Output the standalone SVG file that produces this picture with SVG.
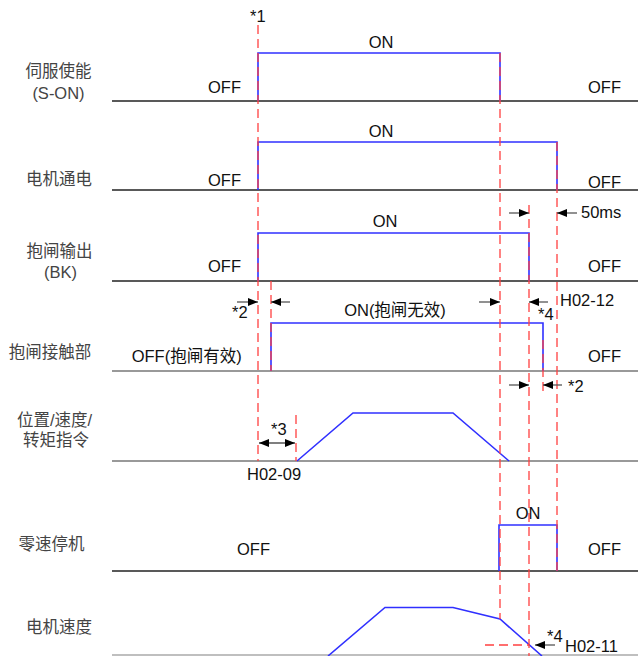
<svg xmlns="http://www.w3.org/2000/svg" width="638" height="656" viewBox="0 0 638 656">
<style>
text{font-family:"Liberation Sans","Noto Sans CJK SC",sans-serif;font-size:16.5px;fill:#111}
.lbl{fill:#444;text-anchor:middle}
.mid{text-anchor:middle}
.base{stroke:#222;stroke-width:1.3;fill:none}
.gbase{stroke:#777;stroke-width:1.3;fill:none}
.sig{stroke:#3030ff;stroke-width:1.6;fill:none}
.dash{stroke:#ff4040;stroke-width:1.3;stroke-dasharray:9,5;fill:none}
.arr{stroke:#555;stroke-width:1.3;fill:none}
</style>
<defs>
<marker id="ah" viewBox="0 0 10 8" refX="10" refY="4" markerWidth="10" markerHeight="8" markerUnits="userSpaceOnUse" orient="auto-start-reverse">
<path d="M0,0 L10,4 L0,8 z" fill="#000"/>
</marker>
</defs>
<rect width="638" height="656" fill="#fff"/>

<g id="labels">
<text class="lbl" x="58.5" y="77">伺服使能</text>
<text class="lbl" x="58.5" y="99">(S-ON)</text>
<text class="lbl" x="59" y="185">电机通电</text>
<text class="lbl" x="59.5" y="257">抱闸输出</text>
<text class="lbl" x="60.5" y="278">(BK)</text>
<text class="lbl" x="50" y="358">抱闸接触部</text>
<text class="lbl" x="54.5" y="426">位置/速度/</text>
<text class="lbl" x="56" y="446">转矩指令</text>
<text class="lbl" x="51.5" y="550">零速停机</text>
<text class="lbl" x="59" y="633">电机速度</text>
</g>

<g id="baselines">
<line class="base" x1="112" y1="101" x2="638" y2="101"/>
<line class="base" x1="112" y1="190" x2="638" y2="190"/>
<line class="base" x1="112" y1="281" x2="638" y2="281"/>
<line class="gbase" x1="112" y1="371" x2="638" y2="371"/>
<line class="gbase" x1="112" y1="461" x2="638" y2="461"/>
<line class="base" x1="112" y1="571" x2="638" y2="571"/>
<line class="gbase" x1="112" y1="655" x2="638" y2="655" style="stroke:#aaa"/>
</g>

<g id="signals">
<polyline class="sig" points="258,101 258,53 500,53 500,101"/>
<polyline class="sig" points="258,190 258,142 557,142 557,190"/>
<polyline class="sig" points="258,281 258,233 529,233 529,281"/>
<polyline class="sig" points="271,371 271,323 543,323 543,371"/>
<polyline class="sig" points="297,461 353,413 453,413 509,461"/>
<polyline class="sig" points="499,571 499,525 557,525 557,571"/>
<polyline class="sig" points="328,656 385,607.5 453,607.5 500,619 542,656"/>
</g>

<g id="connectors">
<line class="dash" x1="258" y1="25" x2="258" y2="461"/>
<line class="dash" x1="500" y1="53" x2="500" y2="619"/>
<line class="dash" x1="271" y1="281" x2="271" y2="371"/>
<line class="dash" x1="529" y1="205" x2="529" y2="656"/>
<line class="dash" x1="557" y1="142" x2="557" y2="571"/>
<line class="dash" x1="543" y1="340" x2="543" y2="392"/>
<line class="dash" x1="296" y1="415" x2="296" y2="461"/>
<line class="dash" x1="485" y1="645" x2="529" y2="645"/>

<line class="arr" x1="509" y1="213" x2="529" y2="213" marker-end="url(#ah)"/>
<line class="arr" x1="577" y1="213" x2="557" y2="213" marker-end="url(#ah)"/>
<line class="arr" x1="237" y1="302" x2="258" y2="302" marker-end="url(#ah)"/>
<line class="arr" x1="290" y1="302" x2="271" y2="302" marker-end="url(#ah)"/>
<line class="arr" x1="479" y1="302" x2="500" y2="302" marker-end="url(#ah)"/>
<line class="arr" x1="548" y1="302" x2="529" y2="302" marker-end="url(#ah)"/>
<line class="arr" x1="509" y1="385" x2="529" y2="385" marker-end="url(#ah)"/>
<line class="arr" x1="562" y1="385" x2="543" y2="385" marker-end="url(#ah)"/>
<line class="arr" x1="259" y1="443" x2="295" y2="443" marker-start="url(#ah)" marker-end="url(#ah)"/>
<line class="arr" x1="555" y1="645" x2="535" y2="645" marker-end="url(#ah)"/>
</g>

<g id="texts">
<text x="250" y="22">*1</text>
<text class="mid" x="381" y="48">ON</text>
<text x="208" y="93">OFF</text>
<text x="588" y="93">OFF</text>
<text class="mid" x="381" y="137">ON</text>
<text x="208" y="186">OFF</text>
<text x="588" y="188">OFF</text>
<text class="mid" x="385" y="227">ON</text>
<text x="208" y="272">OFF</text>
<text x="588" y="272">OFF</text>
<text x="581" y="218">50ms</text>
<text x="232" y="318">*2</text>
<text class="mid" x="395" y="316">ON(抱闸无效)</text>
<text x="538" y="320">*4</text>
<text x="560" y="306">H02-12</text>
<text x="131.7" y="362">OFF(抱闸有效)</text>
<text x="588" y="362">OFF</text>
<text x="568" y="392">*2</text>
<text x="271" y="435">*3</text>
<text x="247" y="480">H02-09</text>
<text class="mid" x="528" y="519">ON</text>
<text x="237" y="555">OFF</text>
<text x="588" y="555">OFF</text>
<text x="547" y="642">*4</text>
<text x="565" y="652">H02-11</text>
</g>
</svg>
